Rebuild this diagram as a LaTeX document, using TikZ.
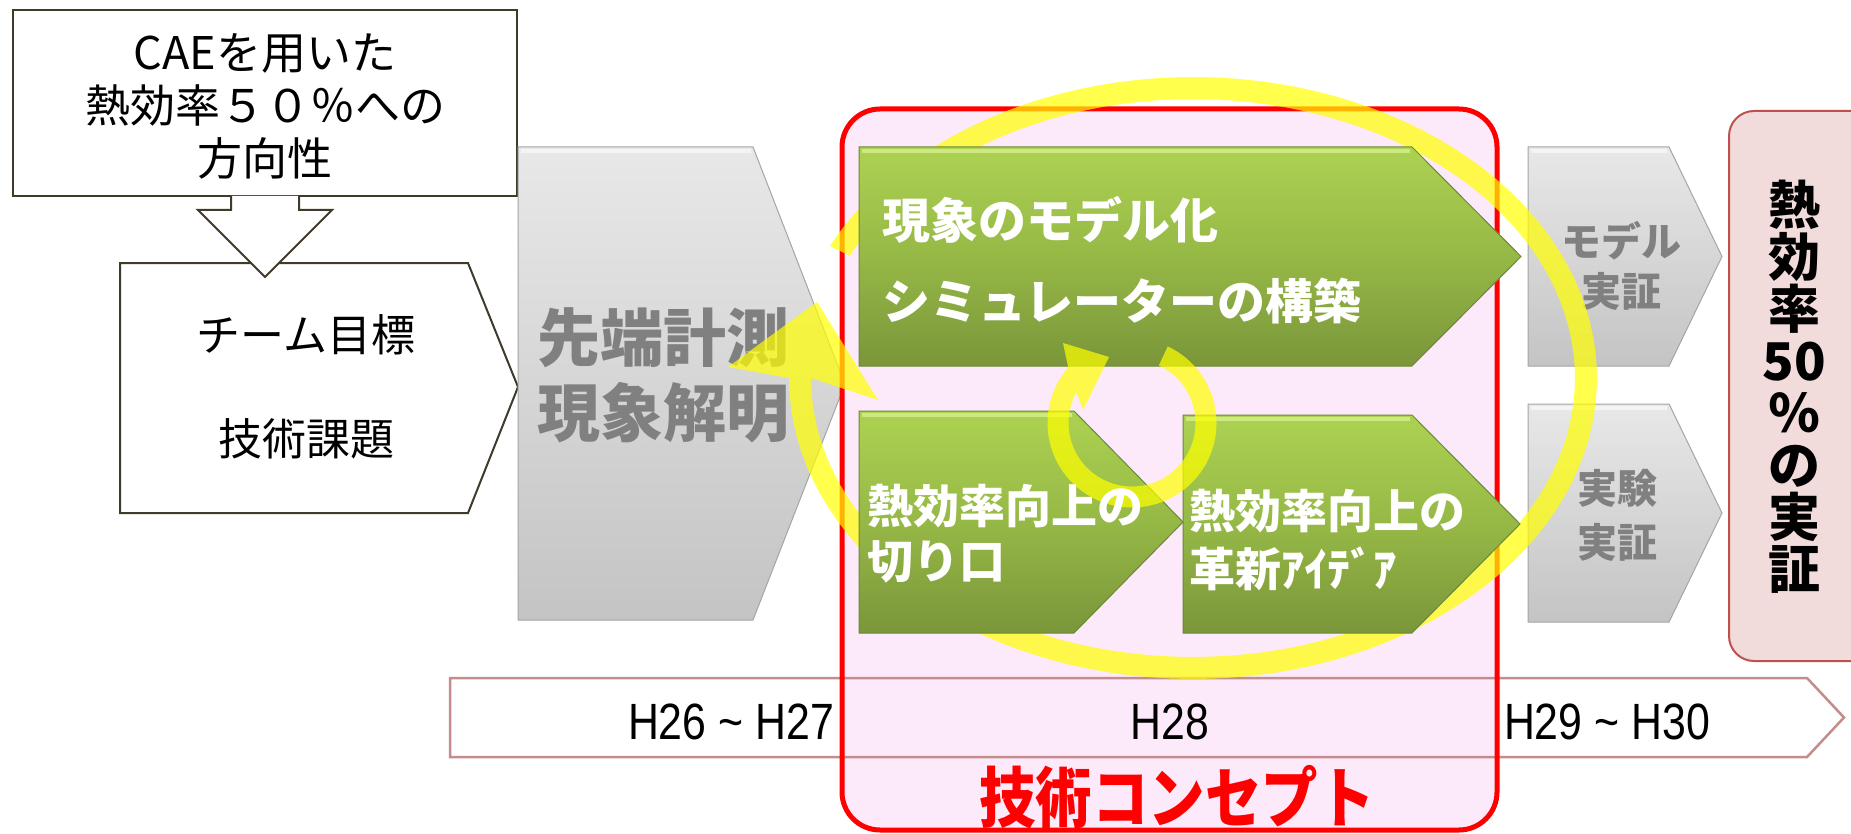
\documentclass[tikz,border=0pt]{standalone}
\usepackage{fontspec}
\usepackage{graphicx}
\setmainfont{Noto Sans CJK JP}
\newfontfamily\latinfont{Liberation Sans}
\definecolor{boxline}{RGB}{64,58,40}
\definecolor{pinkfill}{RGB}{252,234,250}
\definecolor{grayTop}{RGB}{232,232,232}
\definecolor{grayBot}{RGB}{196,196,196}
\definecolor{grayEdge}{RGB}{165,165,165}
\definecolor{grayHi}{RGB}{244,244,244}
\definecolor{grayText}{RGB}{128,128,128}
\definecolor{greenTop}{RGB}{172,210,82}
\definecolor{greenMid}{RGB}{150,184,70}
\definecolor{greenBot}{RGB}{122,150,58}
\definecolor{greenEdge}{RGB}{110,136,52}
\definecolor{greenHi}{RGB}{208,232,130}
\definecolor{goalFill}{RGB}{242,220,219}
\definecolor{goalEdge}{RGB}{192,80,77}
\definecolor{tlEdge}{RGB}{196,140,140}
\definecolor{ringYellow}{RGB}{255,255,0}
\begin{document}
\begin{tikzpicture}[x=1pt,y=-1pt,
  outlinebox/.style={draw=boxline,line width=2pt,fill=white,line join=miter},
  graychev/.style={top color=grayTop,bottom color=grayBot,draw=grayEdge,line width=1pt},
  greenchev/.style={top color=greenTop,bottom color=greenBot,middle color=greenMid,draw=greenEdge,line width=1pt},
  grayhilite/.style={draw=grayHi,line width=4pt},
  greenhilite/.style={draw=greenHi,line width=4pt},
  ring/.style={fill=ringYellow,fill opacity=0.7},
  lbl/.style={inner sep=0pt,align=center},
  greentxt/.style={inner sep=0pt,align=left,anchor=west,text=white},
  yearlbl/.style={inner sep=0pt,font=\latinfont\fontsize{51}{51}\selectfont}
]
\useasboundingbox (0,0) rectangle (1851,834);
\fill[white] (0,0) rectangle (1851,834);

% left part
\draw[outlinebox] (13,10) rectangle (517,196);
\node[lbl,font=\fontsize{45}{53}\selectfont] (cae) at (265,106) {CAEを用いた\\熱効率５０％への\\方向性};
\draw[outlinebox] (120,263) -- (468,263) -- (518,387) -- (468,513) -- (120,513) -- cycle;
\node[lbl,font=\fontsize{44}{104}\selectfont] (team) at (306,387) {チーム目標\\技術課題};
\draw[outlinebox] (231,196) -- (231,210) -- (198,210) -- (265,277) -- (332,210) -- (299,210) -- (299,196);

% gray chevron
\path[graychev] (518,147) -- (753,147) -- (845,384) -- (753,620) -- (518,620) -- cycle;
\path[grayhilite] (521,151) -- (751,151);
\node[inner sep=0pt,anchor=west,align=left,text=grayText,font=\fontsize{63}{75}\selectfont\bfseries] (meas) at (537,375.5) {先端計測\\現象解明};

% concept box fill and timeline
\fill[pinkfill,rounded corners=38pt] (842,109) rectangle (1497,830);
\draw[draw=tlEdge,line width=2.5pt,line join=miter] (450,678) -- (1807,678) -- (1844,717.5) -- (1807,757) -- (450,757) -- cycle;

% right gray chevrons
\path[graychev] (1528,147) -- (1669,147) -- (1722,256.5) -- (1669,366) -- (1528,366) -- cycle;
\path[grayhilite] (1531,151) -- (1667,151);
\path[graychev] (1528,404) -- (1669,404) -- (1722,513) -- (1669,622) -- (1528,622) -- cycle;
\path[grayhilite] (1531,408) -- (1667,408);
\node[lbl,text=grayText,font=\fontsize{40}{50}\selectfont\bfseries] (mv) at (1621,266) {モデル\\実証};
\node[lbl,text=grayText,font=\fontsize{40}{54}\selectfont\bfseries] (ev) at (1617,515) {実験\\実証};

% concept border
\draw[red,line width=5pt,rounded corners=38pt] (842,109) rectangle (1497,830);

% big circular arrow
\fill[ring] plot[domain=206:540,samples=120] ({1193+404*cos(\x)},{378+301*sin(\x)})
  -- (728,367) -- (817,302) -- (878,400)
  -- plot[domain=540:206,samples=120] ({1193+382*cos(\x)},{378+279*sin(\x)}) -- cycle;

% green chevrons
\path[greenchev] (859,147) -- (1412,147) -- (1521,256.5) -- (1412,366) -- (859,366) -- cycle;
\path[greenhilite] (862,151) -- (1410,151);
\path[greenchev] (859,411) -- (1074,411) -- (1183,522) -- (1074,633) -- (859,633) -- cycle;
\path[greenhilite] (862,415) -- (1072,415);
\path[greenchev] (1183,415) -- (1412,415) -- (1520,524) -- (1412,633) -- (1183,633) -- cycle;
\path[greenhilite] (1186,419) -- (1410,419);

% small circular arrow
\fill[ring] plot[domain=295:581,samples=80] ({1132+84.5*cos(\x)},{423+84.5*sin(\x)})
  -- (1063,343) -- (1109,357) -- (1083,410)
  -- plot[domain=569:295,samples=80] ({1132+63.5*cos(\x)},{423+63.5*sin(\x)}) -- cycle;

% green texts
\node[greentxt,font=\fontsize{48}{81}\selectfont\bfseries] (model) at (882,260.5) {現象のモデル化\\シミュレーターの構築};
\node[greentxt,font=\fontsize{46}{55}\selectfont\bfseries] (cut) at (867,533.5) {熱効率向上の\\切り口};
\node[greentxt,font=\fontsize{46}{58}\selectfont\bfseries] (idea) at (1189,540) {熱効率向上の\\革新ｱｲﾃﾞｱ};

% goal box
\draw[fill=goalFill,draw=goalEdge,line width=2pt,rounded corners=25pt] (1729,111) rectangle (1880,661);
\node[lbl,font=\fontsize{52}{52}\selectfont\bfseries] (goal) at (1794,387) {熱\\効\\率\\50\\％\\の\\実\\証};

% timeline labels
\node[yearlbl] (y1) at (731,722) {\scalebox{0.84}[1]{H26 \textasciitilde{} H27}};
\node[yearlbl] (y2) at (1170,722) {\scalebox{0.84}[1]{H28}};
\node[yearlbl] (y3) at (1607,722) {\scalebox{0.84}[1]{H29 \textasciitilde{} H30}};

% concept label
\node[lbl,text=red,font=\fontsize{66}{66}\selectfont\bfseries] (concept) at (1177,797) {\scalebox{0.855}[1]{技術コンセプト}};
\end{tikzpicture}
\end{document}
